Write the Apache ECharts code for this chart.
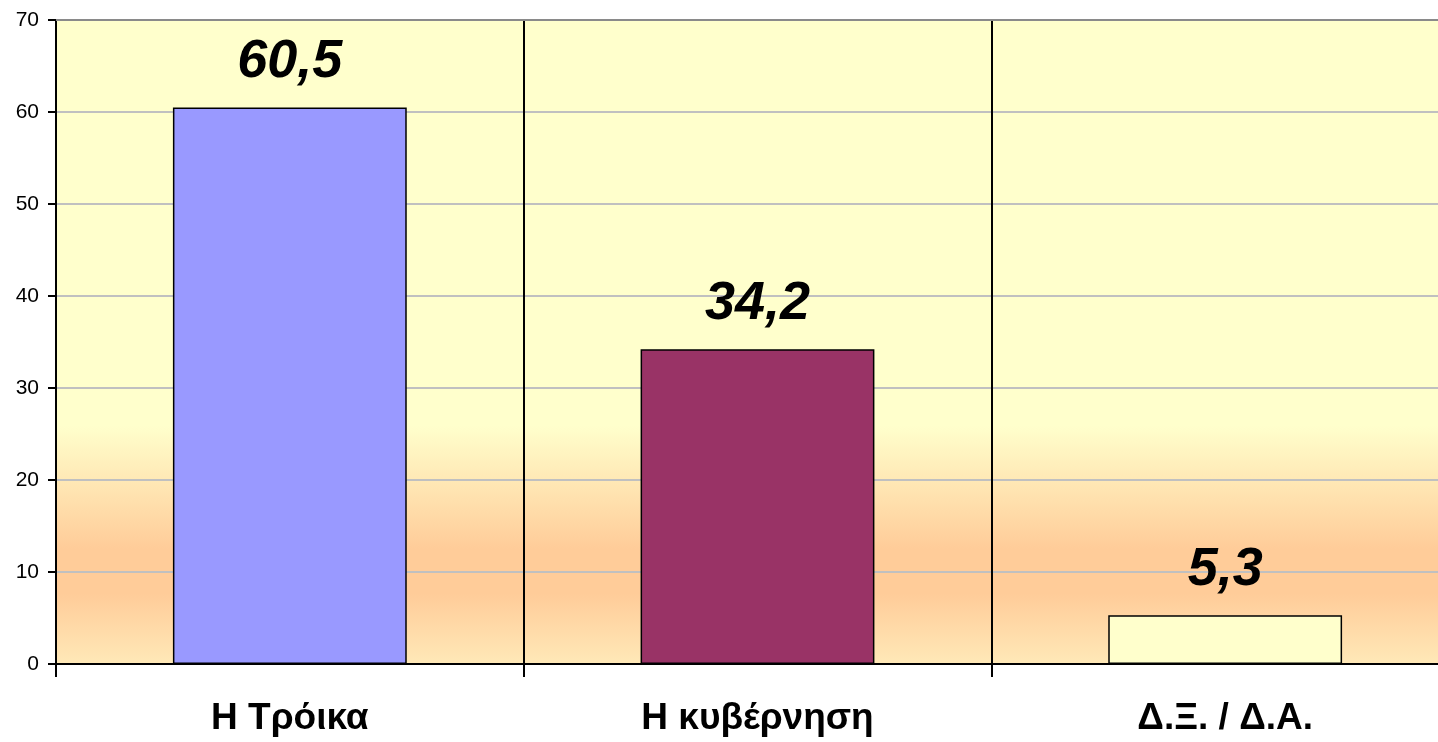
<!DOCTYPE html>
<html>
<head>
<meta charset="utf-8">
<script src="https://cdn.jsdelivr.net/npm/echarts@6/dist/echarts.min.js"></script>
<style>
  html, body { margin: 0; padding: 0; background: #ffffff; overflow: hidden; }
  #chart { width: 1462px; height: 742px; }
</style>
</head>
<body>
<div id="chart"></div>
<script>
// Categories, values and bar colours
const categories = ['Η Τρόικα', 'Η κυβέρνηση', 'Δ.Ξ. / Δ.Α.'];
const values = [60.5, 34.2, 5.3];
const barColors = ['#9999FF', '#993366', '#FFFFCC'];
const yTicks = { min: 0, max: 70, interval: 10 };

const chart = echarts.init(document.getElementById('chart'), null, { renderer: 'canvas' });

const font = '"Liberation Sans", Arial, sans-serif';

chart.setOption({
  animation: false,
  grid: {
    left: 56, right: 3, top: 20, bottom: 78,
    show: true,
    borderColor: '#8a8a8a',
    borderWidth: 2,
    backgroundColor: new echarts.graphic.LinearGradient(0, 0, 0, 1, [
      { offset: 0.0, color: '#FFFFCC' },
      { offset: 0.63, color: '#FFFFCC' },
      { offset: 0.82, color: '#FFCC99' },
      { offset: 0.89, color: '#FFCC99' },
      { offset: 1.0, color: '#FFE9B8' }
    ])
  },
  xAxis: [{
    type: 'category',
    data: categories,
    axisLine: { show: true, lineStyle: { color: '#000', width: 2 } },
    axisTick: { show: true, length: 13, lineStyle: { color: '#000', width: 2 } },
    axisLabel: {
      color: '#000', fontFamily: font, fontWeight: 'bold', fontSize: 37, margin: 36
    },
    splitLine: { show: true, lineStyle: { color: '#000', width: 2 } }
  }, {
    // top frame edge of the plot area
    type: 'category',
    position: 'top',
    data: categories,
    axisLine: { show: true, lineStyle: { color: '#8a8a8a', width: 2 } },
    axisTick: { show: false },
    axisLabel: { show: false },
    splitLine: { show: false }
  }],
  yAxis: {
    type: 'value',
    min: yTicks.min, max: yTicks.max, interval: yTicks.interval,
    axisLine: { show: true, lineStyle: { color: '#000', width: 2 } },
    axisTick: { show: true, length: 8, lineStyle: { color: '#000', width: 2 } },
    axisLabel: { color: '#000', fontFamily: font, fontSize: 21, margin: 17 },
    splitLine: { show: true, lineStyle: { color: '#C0C0C0', width: 2 } }
  },
  series: [{
    type: 'bar',
    barWidth: '50%',
    data: values.map((v, i) => ({
      value: v,
      itemStyle: { color: barColors[i], borderColor: '#000', borderWidth: 1.5 }
    })),
    label: {
      show: true,
      position: 'top',
      distance: 18,
      color: '#000',
      fontFamily: font,
      fontWeight: 'bold',
      fontStyle: 'italic',
      fontSize: 54,
      formatter: p => String(p.value).replace('.', ',')
    }
  }]
});
</script>
</body>
</html>
